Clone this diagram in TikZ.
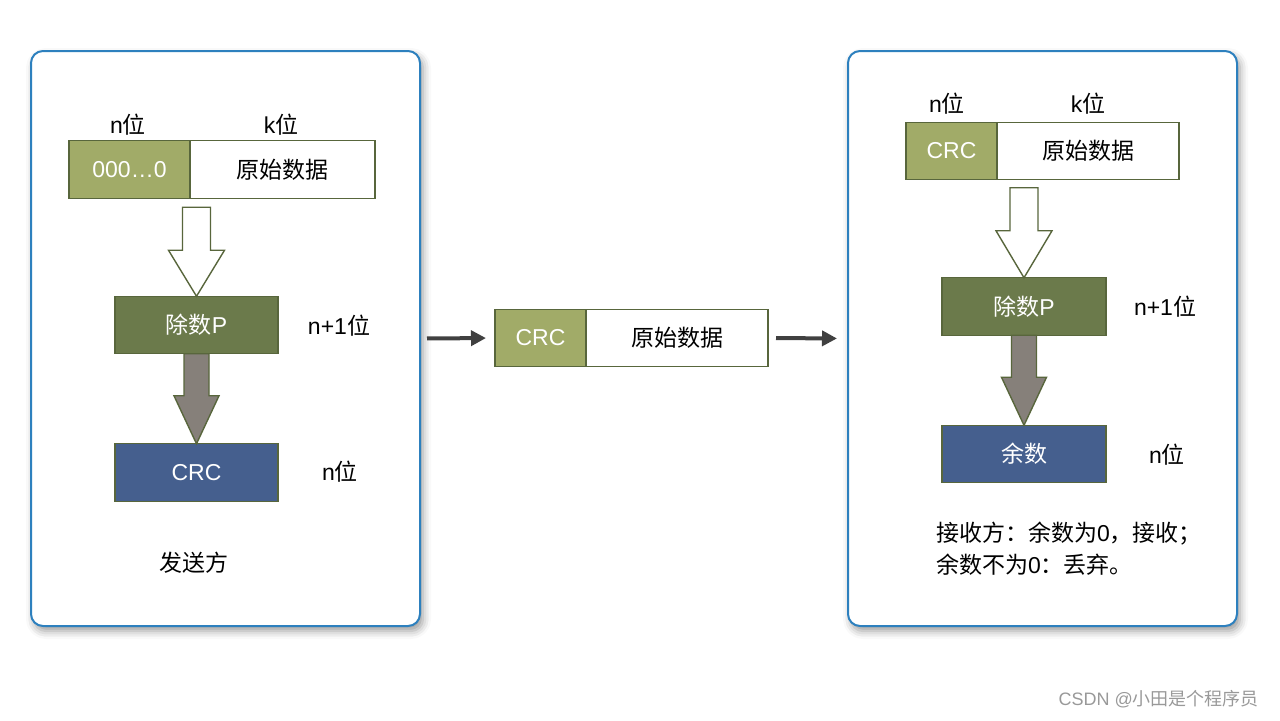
\documentclass[tikz,border=0pt]{standalone}
\usepackage{fontspec}
\setmainfont{Liberation Sans}
\newfontfamily\cjk{Noto Sans CJK SC}
\usetikzlibrary{fit,shadows.blur,arrows.meta}

\definecolor{lightolive}{RGB}{161,171,104}
\definecolor{darkolive}{RGB}{107,122,75}
\definecolor{oliveline}{RGB}{88,102,60}
\definecolor{crcblue}{RGB}{69,95,142}
\definecolor{panelblue}{RGB}{45,128,190}
\definecolor{arrowgray}{RGB}{134,128,122}
\definecolor{flowgray}{RGB}{64,64,64}

\newcommand{\wei}{{\cjk 位}}

\begin{document}
\begin{tikzpicture}[x=0.5pt,y=-0.5pt,
    panel/.style={draw=panelblue, line width=1pt, rounded corners=6pt, fill=white, inner sep=0pt,
        blur shadow={shadow xshift=1.5pt, shadow yshift=-2.5pt, shadow blur radius=4pt, shadow opacity=40}},
    cell/.style={draw=oliveline, line width=0.7pt, inner sep=0pt, outer sep=0pt, minimum height=28.75pt,
        font=\fontsize{11.5}{13}\selectfont},
    lbl/.style={font=\fontsize{11.5}{13}\selectfont},
    hollowarrow/.style={draw=oliveline, line width=0.7pt, fill=white, line join=miter},
    grayarrow/.style={draw=oliveline, line width=0.7pt, fill=arrowgray, line join=miter},
    flow/.style={draw=flowgray, line width=2pt, -{Triangle[length=7.5pt,width=7.5pt]}}]

    \useasboundingbox (0,0) rectangle (1280,720);

    % panels
    \node[panel, fit={(31,51) (420,626)}] (send) {};
    \node[panel, fit={(848,51) (1237,626)}] (recv) {};

    % sender side
    \node[cell, fill=lightolive, text=white, minimum width=60.5pt] (zero) at (129.5,169.5) {000…0};
    \node[cell, fill=white, minimum width=92.5pt, anchor=west] (data) at (zero.east) {\cjk 原始数据};
    \node[lbl] (lbln) at (128,125) {n\wei};
    \node[lbl] (lblk) at (281,125) {k\wei};

    \node[cell, fill=darkolive, text=white, minimum width=81.5pt] (div) at (196.5,325) {{\cjk 除数}P};
    \node[lbl] (lbldiv) at (339,326) {n+1\wei};
    \node[cell, fill=crcblue, text=white, minimum width=81.5pt] (crc) at (196.5,472.5) {CRC};
    \node[lbl] (lblcrc) at (340,472) {n\wei};
    \node[lbl] (sender) at (194,563) {\cjk 发送方};

    \draw[hollowarrow] (div.north) -- ++(28,-46) -- ++(-14,0) -- ++(0,-43) -- ++(-28,0)
        -- ++(0,43) -- ++(-14,0) -- cycle;
    \draw[grayarrow] (crc.north) -- ++(22.5,-48) -- ++(-10,0) -- ++(0,-42) -- ++(-25,0)
        -- ++(0,42) -- ++(-10,0) -- cycle;

    % frame in transit
    \node[cell, fill=lightolive, text=white, minimum width=45.5pt] (midcrc) at (540.5,338) {CRC};
    \node[cell, fill=white, minimum width=91pt, anchor=west] (middata) at (midcrc.east) {\cjk 原始数据};
    \draw[flow, shorten <=3pt, shorten >=4.5pt] (send.east) -- (midcrc.west);
    \draw[flow, shorten <=4pt, shorten >=5pt] (middata.east) -- (recv.west);

    % receiver side
    \node[cell, fill=lightolive, text=white, minimum width=45.5pt] (rcrc) at (951.5,151) {CRC};
    \node[cell, fill=white, minimum width=91pt, anchor=west] (rdata) at (rcrc.east) {\cjk 原始数据};
    \node[lbl] (rlbln) at (947,104) {n\wei};
    \node[lbl] (rlblk) at (1088,104) {k\wei};

    \node[cell, fill=darkolive, text=white, minimum width=82pt] (rdiv) at (1024,306.5) {{\cjk 除数}P};
    \node[lbl] (rlbldiv) at (1165,307) {n+1\wei};
    \node[cell, fill=crcblue, text=white, minimum width=82pt] (rem) at (1024,454) {\cjk 余数};
    \node[lbl] (rlblrem) at (1167,455) {n\wei};

    \draw[hollowarrow] (rdiv.north) -- ++(28,-47) -- ++(-14,0) -- ++(0,-43) -- ++(-28,0)
        -- ++(0,43) -- ++(-14,0) -- cycle;
    \draw[grayarrow] (rem.north) -- ++(22.5,-48) -- ++(-10,0) -- ++(0,-42) -- ++(-25,0)
        -- ++(0,42) -- ++(-10,0) -- cycle;

    \node[anchor=west, align=left, font=\fontsize{11.5}{16}\selectfont] (rule) at (929,549)
        {{\cjk 接收方：余数为}0{\cjk ，接收；}\\{\cjk 余数不为}0{\cjk ：丢弃。}};

    \node[text=black!40, font=\fontsize{9}{11}\selectfont, anchor=east] (mark) at (1266,699)
        {CSDN @{\cjk 小田是个程序员}};
\end{tikzpicture}
\end{document}
